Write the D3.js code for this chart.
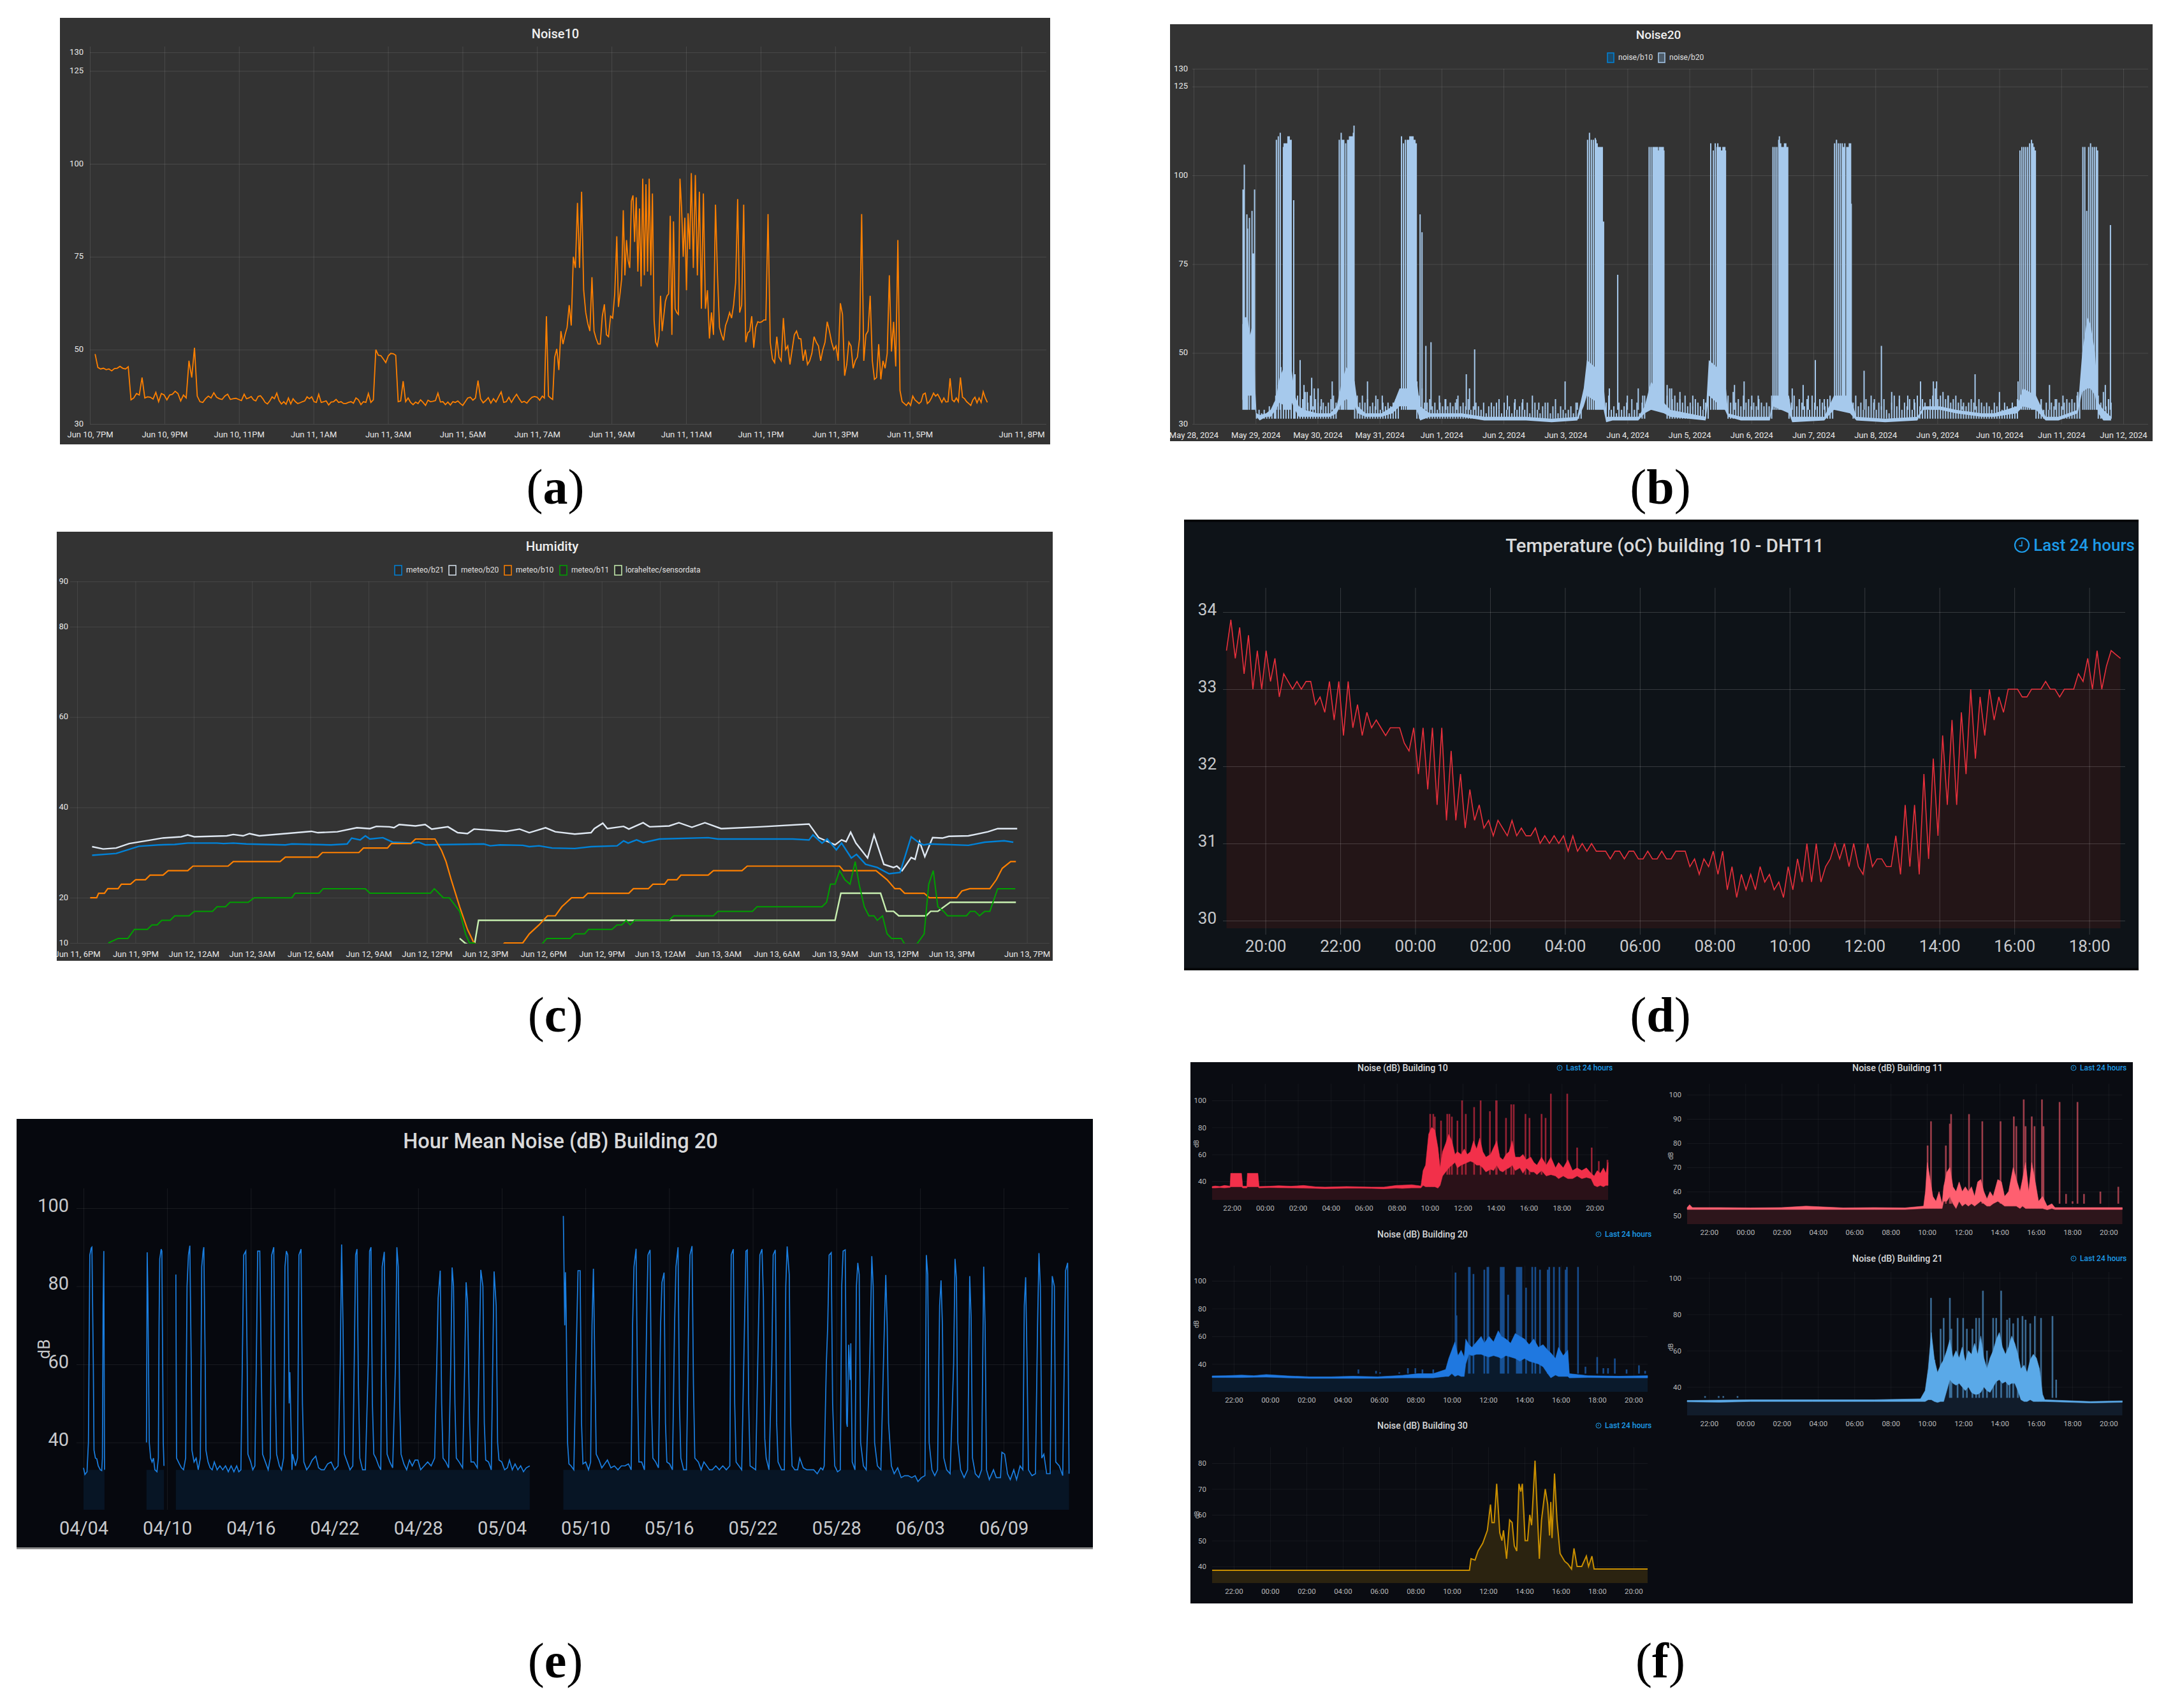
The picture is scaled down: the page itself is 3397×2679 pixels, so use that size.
<!DOCTYPE html>
<html>
<head>
<meta charset="utf-8">
<style>
html,body{margin:0;background:#fff}
svg{display:block}
text{font-family:Roboto,"Noto Sans",sans-serif}
</style>
<script src="https://cdnjs.cloudflare.com/ajax/libs/d3/7.8.5/d3.min.js"></script>
</head>
<body>
<script>
// (a) Noise10: twelve 2 hour stretches, samples evenly spaced inside each one
var noise10Rows = [
 [48.8,45.2,44.8,45,44.6,44.8,44.3,44.9,45,45.5,45,44.8,45.4,36.5,37,38.2,37.8,42.5,37,37.3,37.2,36.7,38.5,36,38.2,37.8,36.5],
 [37.8,38,38.8,38.2,36.2,37.8,37,47,42.5,50.5,37.5,36,35.8,36.8,37.5,37,38.4,37.2,36.8,36.6,37.5,38,36.6,36.8,36.9,36.6,36.3],
 [38,36.8,37,37.4,36.5,36.2,37.4,37.6,36.8,35.8,35.4,36.2,37.3,36.8,38.3,36.3,35.4,36,35.3,37,35.4,36.8,36,35.5,35.7,36,36.2,37.3,36.8,37.3,36,35.8],
 [38,35.8,36,36.2,35.1,35.9,36,36.6,35.8,36,35.5,35.5,35.8,36,35.6,37,36.5,35.2,36,35.8,38.2,35.8,36.5,50,48.5,48.4,47.5,46.5,48.3,49],
 [48.9,48.5,36,36.2,41.5,36,37,35.8,35.2,35.9,35.5,36.5,35.8,35,36.4,36,36.1,36.3,38.3,35.9,36,35.2,35.9,35.1,36,35.8,36.2,35.5,35,36],
 [37,37.2,36.4,37,41.7,36.8,35.7,36.3,37.1,35.6,36.8,35.9,37.3,38.6,35.8,36,37.2,35.8,37,38,36.8,35.8,36.1,35.6,36.5,37.2,37.4,37.2,36.4],
 [37.5,37,59,37.5,37,36.6,48,50.2,44.5,55,51.5,54,56,62,56.5,75,72,89.5,72,92.5,66,60,57,55,69.5,55,53,51.5,51.5,59,62.2,54,53.5,59,58.5,65],
 [80.5,61.5,65,69,87.5,70,79.5,74,72,90,91.5,79,91,71,88,67,96,70,94.5,71,96,70,92,58,52,51,53.5,64.5,55,59,63,64.5,65,86,54,84.5,61,60,59.5,96,88,75,85.5,66,86.7,77],
 [97.5,72,97,70,92.5,61,92,61,66,53,60,54,89,70,56,54,52.5,56.5,58,60,58.5,62,68,90.5,60,62,89,52,54.5,55,59,50.5,56,57.5,57.3,57.5,58],
 [58,86.5,52,47.5,46.5,53.5,48,47,58.5,50,51,46,50,54,55,53,52.9,47,50,46,47,49,53.5,52,51,47,50,52,57.5,55,52,50,51,47],
 [62.5,59.5,43,46,52,51,45,47,48,53,86.5,47,54,55,64.5,47,42,42.5,51.5,42,47,45,49,70,49.5,57.5,45.5,79.5,39,36,35.5,35,35.8,35,37.5],
 [36.5,36,35.5,36,38,38.3,35.5,36,37,38.3,37.5,38,37,35.8,37,35.9,36,42.3,36.5,36,37,36,42.5,37.2,36.8,36,35.5,35,36.5,37.2,35.7,37,35.8,38.7,37,35.8]
];
var noise10Ticks = [0,2,4,6,8,10,12,14,16,18,20,22,25];
var noise10Labels = ["Jun 10, 7PM","Jun 10, 9PM","Jun 10, 11PM","Jun 11, 1AM","Jun 11, 3AM","Jun 11, 5AM","Jun 11, 7AM","Jun 11, 9AM","Jun 11, 11AM","Jun 11, 1PM","Jun 11, 3PM","Jun 11, 5PM","Jun 11, 8PM"];
var noiseYTicks = [30,50,75,100,125,130];

// (b) Noise20: [quarter hour sample, low, high] of the solid band, then the spikes above it
var noise20Band = [[128,37,58],[132,34,60],[136,38,60],[140,38,55],[146,38,60],[148,34,40],[150,32,33],[155,31,32.5],[165,32,33],[172,32,34],[180,34,37],[186,36,43],[195,35,47],[205,36,45],[210,34,38],[216,32,35],[225,32,34],[245,32,33],[265,32,33],[275,33,35],[283,36,42],[290,37,46],[303,35,42],[308,33,35],[320,32,33],[345,32,33],[362,33,35],[373,35,40],[385,35,40],[400,34,42],[405,31,35],[420,32,33],[470,32,33],[505,31,32],[520,31,32],[570,31,32],[610,30.5,31.5],[650,31,32],[660,35,40],[665,38,48],[690,35,44],[695,30.5,32],[705,31,32],[745,31,32],[755,33,35],[765,34,42],[785,33,36],[795,32,34],[850,31,32],[855,38,48],[880,34,44],[885,32,33],[905,31,32],[950,31,32],[955,35,38],[980,33,38],[985,30.5,32],[1035,31,32],[1050,34,38],[1075,33,38],[1085,31,32],[1130,30.5,31.5],[1180,31,32],[1190,34,35],[1215,34,35],[1240,33,34],[1280,32,33],[1300,32,33],[1335,33,35],[1345,35,40],[1365,34,38],[1380,31,32],[1400,31,32],[1430,33,34],[1437,39,50],[1445,40,60],[1450,40,58],[1457,38,50],[1462,33,36],[1470,31,34],[1482,31,32]];
var noise20Spikes = [[129,96],[131,103],[133,60],[135,89],[136,85],[139,88],[143,90],[145,78],[147,96],
 [181,110],[184,111],[187,112],[192,108],[193,109],[194,108],[195,109],[196,109],[197,109],[199,111],[201,111],[202,109],[203,110],[204,110],[208,93],
 [279,110],[282,112],[284,110],[286,110],[289,109],[292,110],[293,110],[294,110],[295,111],[296,110],[297,111],[299,111],[300,110],[301,112],[302,114],
 [376,111],[379,109],[382,110],[385,110],[386,110],[388,110],[389,111],[390,111],[392,111],[393,111],[394,111],[395,110],[396,110],[397,110],[398,109],[399,109],[405,89],[408,84],[414,52],[422,53],
 [666,110],[669,112],[672,110],[675,110],[678,110.5],[679,110],[680,109],[681,109],[682,108],[684,108],[685,108],[686,108],[688,108],[689,108],[691,87],[713,72],
 [762,108],[765,108],[768,108],[769,108],[771,108],[773,108],[775,108],[776,107],[778,108],[780,108],[782,108],[784,108],[785,107],
 [858,109],[862,107],[865,109],[868,108],[869,109],[871,108],[873,108],[875,107],[877,108],[878,108],[880,108],[881,107],
 [955,108],[958,108],[961,108],[964,110],[965,111],[967,109],[969,108],[971,108],[973,109],[975,109],[977,108],[978,108],
 [1051,109],[1054,110],[1057,109],[1060,109],[1063,109],[1065,108],[1067,109],[1070,108],[1072,108],[1074,109],[1076,109],[1077,92],
 [1340,107],[1343,108],[1346,108],[1349,108],[1352,108],[1355,109],[1358,110],[1360,109],[1362,108],[1364,107],
 [1438,108],[1441,108],[1444,90],[1447,108],[1450,109],[1453,108],[1456,108],[1459,108],[1461,107],[1481,86],
 [218,48],[224,41],[229,39],[236,43],[240,40],[246,40],[251,37],[268,42],[323,42],[336,38],[346,38],[435,38],[445,37],[462,37],[477,44],[482,40],[490,51],[516,36],[528,37],[541,38],[553,37],[565,37],[580,38],[590,36],[600,36],[616,37],[631,42],[650,36],[700,40],[728,38],[745,40],[752,38],[790,41],[797,40],[810,39],[830,38],[847,37],[895,41],[910,42],[922,38],[932,38],[985,40],[1002,41],[1010,38],[1021,48],[1035,37],[1097,45],[1113,37],[1124,52],[1140,39],[1152,38],[1165,38],[1175,37],[1185,42],[1205,42],[1210,42],[1228,38],[1250,35],[1270,44],[1308,39],[1337,42],[1373,37],[1386,41],[1395,37],[1407,38],[1430,39],[1473,41],[1478,37]];
// small peaks along the floor: first number is the start sample, the rest are read every 4 samples
var noise20Ripple = [
 [150,33,34,33,34,33,35,34,36],
 [180,38,41,46,48,50,47,49,46],
 [210,44,38,40,37,39,36,38,35,37,36,35,36,35,36,37,38,36],
 [303,40,38,36,38,36,37,35,36,35,37,34,36,35,36,35,36,37,38],
 [400,42,38,40,36,36,37,35,36,34,36,35,37,35,36,35,36,38,35,36,35,37,34,35,36,35,34,36,33,35,34,35,36,34,33,36,34,35,33,36,34,35,36,34,36,33,34,36,34,33,35,34,36,33,35,34,33,35,34,33,34,35,33,36,33,35],
 [695,36,38,34,35,33,36,34,35,36,33,37,34,36,33,36,38],
 [790,38,40,37,38,36,37,36,38,35,36,35,37,36,35,34,36,38],
 [885,38,36,39,36,37,35,38,36,37,35,36,35,37,36,35,36,35,38],
 [980,37,36,38,35,37,36,35,37,34,38,36,35,37,36,35,37,38,36],
 [1080,36,38,35,36,34,37,35,38,36,34,36,35,37,34,33,36,38,35,37,34,36,35,37,34,36,38,35,37,36,34,37,38,40,37,38,39,37,38,36,37,38,36,37,36,35,36,37,36,35,37,36,35,36,35,34,36,35,36,34,36,35,34,36,35,37],
 [1365,36,35,37,34,36,34,36,35,37,36,35,36,37,36,37,36,38,37],
 [1462,38,36,39,35,37,36]
];
var noise20Labels = ["May 28, 2024","May 29, 2024","May 30, 2024","May 31, 2024","Jun 1, 2024","Jun 2, 2024","Jun 3, 2024","Jun 4, 2024","Jun 5, 2024","Jun 6, 2024","Jun 7, 2024","Jun 8, 2024","Jun 9, 2024","Jun 10, 2024","Jun 11, 2024","Jun 12, 2024"];

// (c) Humidity: [2 minute sample, percent]
var humidityB21 = [[63,29.4],[100,29.8],[135,31.4],[165,31.7],[190,31.8],[210,32.1],[255,32.1],[265,32],[280,32.1],[300,31.9],[360,31.7],[370,31.9],[430,31.7],[455,31.9],[462,33.2],[475,32.8],[483,33.7],[490,33],[510,33.3],[525,32.3],[553,32.1],[565,32.3],[575,31.7],[665,31.9],[675,31.5],[690,31.7],[725,31.6],[735,31.3],[750,31.5],[770,31],[805,30.9],[830,31.3],[870,31.5],[880,32.6],[887,32.1],[900,32.8],[910,32.2],[935,33],[1010,33.3],[1025,33],[1090,33],[1140,33],[1165,32.8],[1171,33.9],[1185,32.1],[1193,33],[1207,30.6],[1215,32.1],[1230,28.8],[1238,29.6],[1252,27.4],[1270,26.7],[1288,25.3],[1305,25.6],[1322,33.5],[1335,32.1],[1341,31.7],[1350,31.9],[1410,31.6],[1435,32.3],[1465,32.6],[1479,32.3]];
var humidityB20 = [[63,31.3],[80,30.8],[100,31],[120,32],[150,32.7],[170,33.2],[200,33.5],[210,33.9],[220,33.5],[270,33.7],[280,34],[295,33.7],[305,34.2],[320,33.7],[360,34.2],[400,34.7],[410,34.4],[440,34.6],[470,35.5],[490,35.3],[500,35.8],[520,35.7],[527,35.5],[535,36.2],[560,35.9],[575,36.2],[585,35.2],[610,35.7],[625,34.4],[640,34.2],[650,35.2],[700,34.7],[720,35.2],[735,34.4],[760,35.5],[775,34.6],[805,34.1],[830,34.4],[835,35.3],[848,36.5],[855,35.3],[880,35.8],[888,35.2],[910,36.6],[920,35.7],[950,35.9],[965,36.6],[985,35.6],[1005,36.6],[1030,35.3],[1090,35.7],[1165,36.3],[1180,33.3],[1205,31.7],[1215,32.8],[1222,32.4],[1229,34.5],[1237,32.1],[1255,28.8],[1265,33.9],[1280,27.4],[1295,26.7],[1300,27],[1308,26],[1322,28.9],[1328,28.5],[1335,32.4],[1343,29.1],[1355,33.3],[1370,33.2],[1380,33.6],[1410,33.7],[1440,34.6],[1455,35.3],[1485,35.3]];
var humidityB10 = [[60,20],[70,20],[73,21],[82,21],[87,22],[103,22],[108,23],[122,23],[130,24],[145,24],[152,25],[172,25],[180,26],[210,26],[218,27],[272,27],[280,28],[352,28],[360,29],[410,29],[417,30],[473,30],[480,31],[517,31],[523,32],[553,32],[560,33],[590,33],[600,30.5],[607,28],[615,24],[628,18],[640,13],[650,10],[660,9],[690,9],[697,10],[725,10],[735,12],[750,14],[763,16],[775,16],[785,18],[800,20],[818,20],[825,21],[888,21],[895,22],[918,22],[925,23],[943,23],[948,24],[962,24],[968,25],[1010,25],[1018,26],[1062,26],[1070,27],[1212,27],[1218,26],[1268,26],[1285,24],[1297,22],[1305,22],[1312,21],[1342,21],[1350,20],[1392,20],[1400,21.5],[1412,22],[1443,22],[1453,24],[1462,26.5],[1475,28],[1483,28]];
var humidityB11 = [[88,10],[103,11],[118,11],[128,13],[148,13],[155,14],[163,14],[170,15],[183,15],[190,16],[212,16],[220,17],[248,17],[255,18],[268,18],[275,19],[303,19],[312,20],[370,20],[375,21],[412,21],[418,22],[483,22],[490,21],[583,21],[589,22],[603,20],[612,20],[628,17],[637,12],[643,10],[650,10],[660,9],[750,9],[762,11],[798,11],[805,12],[820,12],[826,13],[862,13],[870,14],[877,14],[884,15],[890,14],[897,15],[950,15],[957,16],[1018,16],[1025,17],[1078,17],[1085,18],[1185,18],[1192,19],[1198,23],[1205,23],[1212,26],[1220,24],[1228,23],[1236,28],[1242,23],[1250,18],[1257,16],[1265,16],[1270,15],[1278,16],[1285,12],[1292,11],[1307,11],[1315,9],[1327,9],[1342,12],[1349,23],[1356,26],[1363,18],[1372,17],[1378,16],[1407,16],[1413,17],[1420,17],[1427,16],[1435,17],[1443,17],[1455,22],[1482,22]];
var humidityLora = [[628,11],[636,10],[650,9],[657,15],[1205,15],[1214,21],[1275,21],[1284,17],[1295,17],[1303,16],[1345,16],[1352,17],[1363,17],[1382,19],[1483,19]];
var humidityNames = ["meteo/b21","meteo/b20","meteo/b10","meteo/b11","loraheltec/sensordata"];
var humidityYTicks = [10,20,40,60,80,90];
var humidityLabels = ["Jun 11, 6PM","Jun 11, 9PM","Jun 12, 12AM","Jun 12, 3AM","Jun 12, 6AM","Jun 12, 9AM","Jun 12, 12PM","Jun 12, 3PM","Jun 12, 6PM","Jun 12, 9PM","Jun 13, 12AM","Jun 13, 3AM","Jun 13, 6AM","Jun 13, 9AM","Jun 13, 12PM","Jun 13, 3PM","Jun 13, 7PM"];

// (d) Temperature: twelve 2 hour stretches from about 18:58
var tempRows = [
 [33.5,33.9,33.4,33.8,33.2,33.7,33.0,33.5,33.0,33.5,33.1,33.4,32.9,33.2,33.1,33.0,33.1],
 [33.0,33.1,33.1,32.8,32.9,32.7,33.1,32.6,33.1,32.4,33.1,32.5,32.8,32.4,32.7,32.5],
 [32.6,32.5,32.4,32.5,32.5,32.5,32.3,32.2,32.5,31.9,32.5,31.7,32.5,31.5,32.5,31.3],
 [32.2,31.3,31.9,31.2,31.7,31.3,31.5,31.2,31.3,31.1,31.3,31.2,31.1,31.3,31.1,31.2],
 [31.1,31.1,31.2,31.0,31.1,31.0,31.1,31.0,31.1,30.9,31.1,30.9,31.0,30.9,31.0,30.9],
 [30.9,30.9,30.8,30.9,30.9,30.8,30.9,30.9,30.8,30.8,30.9,30.8,30.8,30.9,30.8,30.8],
 [30.9,30.9,30.9,30.7,30.8,30.6,30.8,30.7,30.9,30.6,30.9,30.4,30.7,30.3,30.6,30.4],
 [30.6,30.4,30.7,30.5,30.6,30.4,30.5,30.3,30.7,30.4,30.8,30.5,31.0,30.5,31.0,30.5],
 [30.7,30.8,31.0,30.8,31.0,30.7,31.0,30.7,30.6,31.0,30.7,30.8,30.8,30.7,30.7,31.1],
 [30.6,31.5,30.7,31.5,30.6,31.9,30.8,32.1,31.1,32.4,31.5,32.6,31.5,32.7,31.9,33.0],
 [32.1,32.9,32.4,33.0,32.6,32.9,32.7,33.0,33.0,33.0,32.9,32.9,33.0,33.0,33.0,33.1],
 [33.0,33.0,32.9,33.0,33.0,33.0,33.2,33.1,33.4,33.0,33.5,33.0,33.3,33.5,33.45,33.4]
];
var tempYTicks = [30,31,32,33,34];
var clockLabels = ["20:00","22:00","00:00","02:00","04:00","06:00","08:00","10:00","12:00","14:00","16:00","18:00"];

// (e) Hour mean noise: [72 minute sample, dB], one list per stretch without gaps
var hourMean1 = [[101,33.5],[103,31.8],[106,32.5],[108,40],[110,88],[112,89.8],[113,90],[115,60],[116,38],[118,36],[120,35.8],[122,34],[125,33],[127,32.8],[128,36],[129,75],[130,89],[131,33]];
var hourMean2 = [[191,40],[192,88.7],[193,78],[195,40],[197,36],[199,35],[201,36],[203,33],[206,32.5],[208,36],[209,70],[210,87],[212,89.5],[213,89],[215,40],[216,34]];
var hourMean3 = [[233,83],[234,36],[238,34.5],[241,33.5],[244,33],[247,36],[249,80],[251,88],[253,90.4],[255,60],[256,38],[259,35],[262,36],[265,33],[268,36],[270,85],[272,89],[273,90],[275,60],[276,38],[279,35],[282,33.5],[285,33],[288,35],[292,33],[296,34],[300,33],[304,34],[308,32.5],[312,34],[316,32.5],[320,34],[323,32.5],[326,33],[328,60],[330,88],[333,89],[335,60],[336,37],[340,35],[343,33],[346,34],[348,60],[350,89],[353,89],[355,60],[357,37],[361,35],[365,33],[368,36],[370,88],[373,90],[375,55],[377,37],[381,34],[384,33],[387,36],[389,85],[391,89],[393,88],[395,50],[396,58],[399,33],[400,37],[404,34],[407,36],[409,88],[412,89.5],[414,50],[416,35],[420,33],[424,34],[428,35.5],[433,36.5],[437,33.5],[441,33],[445,33],[450,34.5],[455,35],[460,33],[465,34],[468,60],[470,90.7],[472,70],[474,37],[478,35],[482,33],[486,34],[488,60],[490,88],[492,89.5],[494,55],[496,36],[500,33],[504,33],[508,60],[510,89],[512,90],[514,50],[516,37],[519,36],[523,34],[526,33],[528,85],[531,88.8],[533,60],[535,37],[539,35],[543,33.5],[547,60],[549,90],[551,85],[553,50],[555,37],[559,34.5],[563,33],[567,35.5],[571,34],[575,35.5],[579,35.5],[583,33],[588,34],[593,35],[598,34],[603,36],[606,60],[608,77],[611,84],[613,50],[615,36],[619,35],[623,33.5],[626,60],[628,84.8],[630,80],[632,50],[634,36],[638,35],[643,33.5],[646,60],[648,81],[650,76],[653,45],[655,35],[659,35],[664,33.5],[667,65],[669,84.2],[672,80],[674,45],[676,35.5],[680,35],[684,33],[686,60],[688,83.8],[691,75],[693,40],[695,35.5],[699,35],[703,33],[707,33.5],[710,35.5],[714,33],[718,34.5],[722,33],[726,34],[730,32.5],[734,33.5],[739,34]];
var hourMean4 = [[787,98],[789,70],[790,83.6],[791,74],[793,40],[795,34.5],[798,34],[802,33],[805,60],[808,84],[811,84],[813,45],[815,34.5],[819,35],[823,33],[826,35],[828,70],[830,84.5],[832,60],[834,37],[838,35.5],[842,33.5],[846,34.5],[850,35.5],[855,33.5],[860,34],[865,33],[870,34],[875,34],[880,34.5],[884,33],[886,70],[888,85],[891,89.6],[893,55],[895,35],[899,35],[903,33],[906,70],[908,88],[911,89.3],[913,50],[915,36],[919,35],[923,33.5],[926,70],[928,81],[931,83.5],[933,45],[935,35],[939,34.5],[943,33],[946,70],[948,85],[951,90],[953,50],[955,36],[959,33],[963,33],[966,70],[968,88],[971,90.3],[973,55],[975,36],[980,35],[984,33],[988,35],[992,34],[996,33],[1000,33],[1005,34],[1010,33],[1015,34],[1020,33],[1025,34],[1027,88],[1030,89.5],[1032,50],[1034,35],[1038,34],[1042,33],[1046,70],[1048,89],[1050,89.3],[1052,50],[1054,34],[1058,33.5],[1062,33],[1066,70],[1068,88],[1071,89.5],[1073,77.4],[1075,41],[1077,36],[1081,33],[1085,60],[1087,88],[1090,89.3],[1092,45],[1094,35],[1099,33],[1103,33],[1105,80],[1107,90.2],[1110,83],[1112,45],[1114,34],[1118,33],[1122,33],[1125,36],[1130,33.5],[1135,33],[1140,33],[1145,33],[1150,32],[1155,33.5],[1158,33],[1160,34],[1163,60],[1165,70],[1167,88],[1170,88.6],[1172,50],[1175,34],[1179,32.5],[1183,33],[1185,80],[1187,89],[1190,89.3],[1192,45],[1193,44],[1195,65],[1197,56],[1198,65.4],[1200,35],[1204,33],[1206,80],[1208,86],[1210,83],[1212,40],[1216,34],[1220,33],[1225,60],[1228,87.7],[1230,80],[1232,40],[1236,34],[1241,33],[1246,70],[1248,82.9],[1250,70],[1252,45],[1256,34],[1260,32],[1265,33.5],[1270,31],[1275,31.5],[1280,31.5],[1285,31],[1290,31.5],[1294,30],[1299,31],[1304,31.5],[1306,88],[1308,83],[1310,40],[1314,33],[1318,31.5],[1322,33],[1325,75],[1327,81.5],[1329,70],[1331,36],[1335,33],[1340,32],[1345,60],[1347,87],[1349,82],[1351,40],[1355,33],[1360,31],[1365,33],[1368,82.6],[1370,72],[1372,36],[1376,32],[1381,31],[1385,33],[1388,85],[1390,70],[1392,33],[1396,30.5],[1402,33],[1406,31],[1412,31],[1414,37.5],[1418,37],[1422,32],[1426,30.5],[1431,33],[1435,30.5],[1440,34],[1444,33],[1446,75],[1448,82.3],[1450,60],[1452,33],[1457,31.5],[1462,32],[1465,70],[1467,88.5],[1469,80],[1471,36],[1474,37],[1478,32],[1483,32],[1486,82.6],[1489,80],[1491,35],[1496,34],[1501,31.5],[1505,84],[1508,86],[1510,32]];
var hourMeanLabels = ["04/04","04/10","04/16","04/22","04/28","05/04","05/10","05/16","05/22","05/28","06/03","06/09"];
var hourMeanYTicks = [40,60,80,100];

// (f) the five 24 hour noise panels: [sample, low, high] bands and [sample, top] spikes
var b10Band = [[85,35.2,36.2],[95,35.2,36.6],[110,35.4,36.2],[125,35.2,37],[143,35.5,36.5],[145,36,46],[180,36,46],[184,35.2,36.4],[197,35.2,36.4],[199,36,46],[233,36,46],[237,35.2,36.2],[270,35.4,36.4],[300,35.3,36.8],[340,35.2,36.4],[380,35,37],[420,34.8,36],[450,34.6,35.8],[520,34.9,36.2],[560,34.9,36],[600,34.8,35.8],[640,34.5,35.8],[680,35,37],[700,34.8,37.2],[730,35.2,37.5],[760,35.2,36.6],[767,37,48],[775,36,52],[785,36,75],[795,36,80],[805,36,78],[815,35,65],[822,37,50],[830,44,62],[840,47,68],[850,50,75],[860,52,70],[870,54,60],[878,50,62],[890,52,60],[900,53,64],[910,54,60],[920,55,62],[930,54,70],[940,52,64],[950,52,72],[960,50,62],[970,47,58],[985,49,60],[995,48,65],[1005,52,70],[1015,48,58],[1025,47,56],[1035,49,60],[1045,50,62],[1055,52,70],[1065,48,58],[1080,50,58],[1090,46,60],[1100,50,56],[1115,47,58],[1125,47,54],[1135,45,52],[1150,48,58],[1165,44,52],[1180,45,58],[1195,44,50],[1205,42,54],[1220,44,50],[1235,42,56],[1250,42,48],[1265,44,50],[1280,42,48],[1295,43,50],[1310,42,46],[1320,37,44],[1330,36,48],[1340,37,46],[1350,36,50],[1358,37,46],[1365,37,54]];
var b10Spikes = [[790,90],[800,90],[805,88],[825,85],[845,90],[852,90],[860,88],[878,85],[893,100],[905,90],[932,95],[953,100],[983,92],[1003,100],[1005,100],[1035,87],[1052,97],[1060,97],[1098,90],[1111,87],[1150,90],[1163,87],[1180,105],[1233,105],[1265,65],[1312,65],[1335,55],[1363,56]];
var b20Band = [[85,30.2,31.4],[130,30.2,31.6],[180,30.2,32],[220,30.4,31.6],[260,30.5,32.4],[330,30,31.4],[400,29.6,30.8],[470,29.6,30.8],[540,29.6,31.2],[620,29.6,30.8],[700,30,31.8],[750,30,33],[800,30,33],[840,31,36],[850,31,44],[860,33,50],[870,31,56],[880,32,46],[890,31,50],[900,31,45],[905,40,58],[915,47,54],[925,46,52],[940,47,56],[955,47,60],[965,46,55],[980,45,60],[995,46,56],[1010,45,64],[1020,44,60],[1035,46,58],[1050,45,55],[1065,44,62],[1080,42,60],[1095,44,58],[1110,42,54],[1125,41,58],[1140,40,52],[1155,38,54],[1170,33,50],[1180,30,48],[1195,32,44],[1205,31,52],[1220,31,46],[1235,31,50],[1240,30,33],[1300,30.2,31.6],[1400,30,31.2],[1493,30,31.6]];
var b20Spikes = [[558,36],[615,35],[628,34],[690,34],[718,37],[742,37],[765,36],[800,36],[872,106],[875,75],[915,110],[918,110],[930,105],[965,108],[975,110],[978,110],[1018,110],[1021,110],[1025,110],[1028,110],[1042,90],[1070,110],[1073,110],[1077,110],[1081,110],[1085,110],[1100,95],[1120,110],[1130,110],[1145,108],[1170,108],[1175,110],[1190,110],[1208,110],[1228,108],[1232,110],[1268,110],[1292,38],[1330,45],[1350,37],[1365,37],[1387,44],[1425,36],[1465,39],[1485,35]];
var b30Line = [[85,38.5],[917,38.5],[922,43],[935,42.5],[945,46],[960,49],[975,54],[985,64],[990,57],[997,57],[1005,72],[1015,53],[1022,50],[1027,54],[1037,43],[1047,58],[1055,57],[1062,48],[1070,46],[1077,72],[1083,69],[1088,72],[1097,50],[1105,50],[1112,60],[1118,56],[1129,81],[1143,43],[1150,58],[1162,70],[1170,64],[1176,52],[1180,65],[1184,51],[1192,76],[1200,58],[1210,45],[1225,42],[1235,41],[1247,39],[1255,47],[1265,40],[1280,40],[1295,44],[1302,40],[1313,44],[1320,39],[1493,39]];
var b11Band = [[95,52.6,53.4],[103,52.6,54.6],[112,52.6,53.4],[200,52.6,53.4],[300,52.6,53.3],[400,52.6,53.4],[480,52.6,54],[600,52.6,53.3],[700,52.6,53.4],[800,52.6,53.3],[860,53,54],[866,53,60],[872,53,72],[880,53,66],[890,53,58],[900,53,56],[910,53,60],[920,53,55],[925,56,62],[935,56,68],[945,58,70],[955,55,62],[965,53,60],[975,56,64],[985,54,60],[995,55,62],[1005,54,60],[1015,55,62],[1025,54,58],[1035,55,64],[1045,56,65],[1055,55,60],[1065,54,57],[1075,54,60],[1085,55,58],[1100,56,65],[1112,55,64],[1122,54,58],[1135,54,60],[1150,54,70],[1160,54,65],[1172,53,60],[1180,54,65],[1190,53,72],[1200,53,60],[1210,53,72],[1220,53,65],[1232,53,56],[1245,53,58],[1260,52.5,54],[1275,53,55],[1285,52.6,53.4],[1400,52.6,53.4],[1503,52.6,53.4]];
var b11Spikes = [[873,79],[884,89],[932,79],[945,88],[949,92],[1007,92],[1050,89],[1109,89],[1152,91],[1160,87],[1184,98],[1190,87],[1210,91],[1219,87],[1243,98],[1248,87],[1300,97],[1321,59],[1342,56],[1358,97],[1379,59],[1432,60],[1490,62]];
var b21Band = [[95,31.8,32.6],[200,31.6,32.8],[300,32,33],[500,32,33],[700,32,33],[850,32,33.5],[865,32,38],[875,33,50],[885,33,70],[895,32,55],[905,31.5,48],[915,32,52],[925,32,55],[935,38,60],[945,44,66],[955,42,56],[965,41,60],[975,42,56],[985,40,62],[995,38,54],[1005,40,60],[1015,37,58],[1025,36,64],[1035,36,58],[1045,37,68],[1055,40,56],[1065,38,50],[1075,37,56],[1085,40,60],[1095,43,66],[1105,44,70],[1115,42,62],[1125,43,58],[1135,41,62],[1145,42,68],[1155,42,64],[1165,38,58],[1175,33,50],[1185,32,52],[1195,32,48],[1205,33,55],[1215,32,58],[1225,32,56],[1235,32,50],[1245,32,36],[1252,32,33],[1400,31.2,32],[1503,31.6,32.4]];
var b21Spikes = [[153,35],[197,35],[212,35],[235,34],[258,35],[884,89],[895,55],[915,72],[925,78],[945,89],[950,72],[970,78],[988,78],[1000,72],[1018,72],[1030,78],[1040,78],[1052,93],[1065,60],[1085,78],[1095,78],[1111,93],[1130,77],[1138,78],[1150,75],[1165,78],[1180,79],[1190,77],[1205,75],[1220,79],[1240,78],[1277,79],[1289,44]];
var dayClockLabels = ["22:00","00:00","02:00","04:00","06:00","08:00","10:00","12:00","14:00","16:00","18:00","20:00"];
var captionLetters = ["a","b","c","d","e","f"];

var svg = d3.select('body').append('svg').attr('width', 3397).attr('height', 2679);
var defs = svg.append('defs');
var clipCount = 0;

function clipped(x, y, w, h) {
	var id = 'clip' + (clipCount++);
	defs.append('clipPath').attr('id', id).append('rect').attr('x', x).attr('y', y).attr('width', w).attr('height', h);
	return svg.append('g').attr('clip-path', 'url(#' + id + ')');
}

function panel(x0, y0, x1, y1, fill) {
	var g = clipped(x0, y0, x1 - x0, y1 - y0);
	g.append('rect').attr('x', x0).attr('y', y0).attr('width', x1 - x0).attr('height', y1 - y0).attr('fill', fill);
	return g;
}

function label(g, x, y, str, size, fill, anchor, weight) {
	return g.append('text').attr('x', x).attr('y', y).attr('dy', '.35em')
		.attr('text-anchor', anchor || 'middle').attr('font-size', size).attr('fill', fill)
		.attr('font-weight', weight || 400).text(str);
}

// gridlines are the axis ticks stretched over the plot
function axes(g, x, y, xTicks, xLabels, yTicks, o) {
	var xa = g.append('g').attr('transform', 'translate(0,' + o.bottom + ')')
		.call(d3.axisBottom(x).tickValues(xTicks).tickFormat(function(d, i) { return xLabels[i]; })
			.tickSize(-(o.bottom - o.gridTop)).tickPadding(o.xLabelY - o.bottom - 0.36 * o.size));
	var ya = g.append('g').attr('transform', 'translate(' + o.left + ',0)')
		.call(d3.axisLeft(y).tickValues(yTicks).tickFormat(d3.format('d')).tickSize(-(o.right - o.left)).tickPadding(o.yPad));
	[xa, ya].forEach(function(a) {
		a.select('.domain').remove();
		a.selectAll('line').attr('stroke', o.grid).attr('stroke-width', 1);
		a.selectAll('text').attr('fill', o.text).attr('font-size', o.size);
	});
	ya.selectAll('text').attr('y', o.yShift || 0);
}

function rowsToPoints(rows, start, span) {
	var pts = [];
	rows.forEach(function(row, r) {
		row.forEach(function(v, j) { pts.push([start + span * (r + j / row.length), v]); });
	});
	return pts;
}

function spikePath(x, y, spikes, base) {
	var line = d3.line().x(function(d) { return x(d[0]); }).y(function(d) { return y(d[1]); });
	return spikes.map(function(s) { return line([[s[0], base], [s[0], s[1]]]); }).join('');
}

// "Last 24 hours" with its little clock
function lastHours(g, cx, cy, r, tx, size, anchor) {
	var c = '#1d9be8';
	g.append('circle').attr('cx', cx).attr('cy', cy).attr('r', r).attr('fill', 'none').attr('stroke', c).attr('stroke-width', Math.max(1, r / 5));
	g.append('path').attr('d', 'M' + cx + ' ' + (cy - r * 0.6) + 'V' + (cy + r * 0.1) + 'H' + (cx - r * 0.4)).attr('fill', 'none').attr('stroke', c).attr('stroke-width', Math.max(0.8, r / 7));
	label(g, tx, cy, 'Last 24 hours', size, c, anchor, 500);
}

// ---- (a)
(function() {
	var g = panel(94, 28, 1647, 697, '#333333');
	var x = d3.scaleLinear().domain([0, 25]).range([141, 1602]);
	var y = d3.scaleLinear().domain([30, 100]).range([665, 257]);
	axes(g, x, y, noise10Ticks, noise10Labels, noiseYTicks, {bottom: 665, gridTop: 73, left: 141, right: 1641, xLabelY: 681, yPad: 10, yShift: -1, size: 13, grid: 'rgba(255,255,255,0.11)', text: '#e8e8e8'});
	label(g, 871, 53, 'Noise10', 20, '#f0f0f0', 'middle', 500);
	g.append('path').datum(rowsToPoints(noise10Rows, 0.14, 2)).attr('fill', 'none').attr('stroke', '#ff8000').attr('stroke-width', 1.8)
		.attr('d', d3.line().x(function(d) { return x(d[0]); }).y(function(d) { return y(d[1]); }));
})();

// ---- (b)
(function() {
	var g = panel(1835, 38, 3376, 692, '#333333');
	var x = d3.scaleLinear().domain([52, 1501]).range([1872, 3330]);
	var y = d3.scaleLinear().domain([30, 100]).range([665, 275]);
	var ticks = noise20Labels.map(function(d, i) { return 52 + i * 96.6; });
	axes(g, x, y, ticks, noise20Labels, noiseYTicks, {bottom: 665, gridTop: 108, left: 1870, right: 3369, xLabelY: 682, yPad: 7, yShift: -1, size: 13, grid: 'rgba(255,255,255,0.11)', text: '#e8e8e8'});
	label(g, 2601, 54, 'Noise20', 19, '#f0f0f0', 'middle', 500);
	[['noise/b10', 2521, '#0082d8', '#1d4a68'], ['noise/b20', 2601, '#a6c9ec', '#4d5c6a']].forEach(function(l) {
		g.append('rect').attr('x', l[1]).attr('y', 83).attr('width', 10).attr('height', 15).attr('fill', l[3]).attr('stroke', l[2]).attr('stroke-width', 1.5);
		label(g, l[1] + 17, 90, l[0], 12, '#e0e0e0', 'start');
	});
	var ripple = [];
	noise20Ripple.forEach(function(row) {
		row.slice(1).forEach(function(v, i) { ripple.push([row[0] + i * 4, v]); });
	});
	g.append('path').attr('fill', 'none').attr('stroke', '#a6c9ec').attr('stroke-width', 2).attr('d', spikePath(x, y, noise20Spikes, 34));
	g.append('path').attr('fill', 'none').attr('stroke', '#a6c9ec').attr('stroke-width', 2).attr('d', spikePath(x, y, ripple, 31.5));
	g.append('path').datum(noise20Band).attr('fill', '#a6c9ec')
		.attr('d', d3.area().x(function(d) { return x(d[0]); }).y0(function(d) { return y(d[1]); }).y1(function(d) { return y(d[2]); }));
})();

// ---- (c)
(function() {
	var g = panel(89, 834, 1651, 1507, '#333333');
	var x = d3.scaleLinear().domain([40, 1500]).range([121, 1610.6]);
	var y = d3.scaleLinear().domain([10, 90]).range([1479, 912]);
	var ticks = humidityLabels.map(function(d, i) { return i < 16 ? 40 + i * 89.6 : 1500; });
	axes(g, x, y, ticks, humidityLabels, humidityYTicks, {bottom: 1479, gridTop: 912, left: 110, right: 1646, xLabelY: 1496, yPad: 3, yShift: -1, size: 13, grid: 'rgba(255,255,255,0.09)', text: '#e8e8e8'});
	label(g, 866, 857, 'Humidity', 20.5, '#f0f0f0', 'middle', 500);
	var legend = [[619, 637, '#0082d8'], [704, 723, '#d8e4f0'], [791, 809, '#ff8000'], [878, 896, '#00a000'], [964, 981, '#c8f0b0']];
	legend.forEach(function(l, i) {
		g.append('rect').attr('x', l[0]).attr('y', 887).attr('width', 11).attr('height', 15).attr('fill', 'rgba(0,0,0,0.15)').attr('stroke', l[2]).attr('stroke-width', 1.5);
		label(g, l[1], 894, humidityNames[i], 12, '#e0e0e0', 'start');
	});
	var plot = clipped(110, 912, 1536, 568);
	var line = d3.line().x(function(d) { return x(d[0]); }).y(function(d) { return y(d[1]); });
	[[humidityLora, '#c8f0b0', 2.4], [humidityB20, '#dfe8f2', 2.4], [humidityB21, '#0082d8', 2.4], [humidityB10, '#ff8000', 2.2], [humidityB11, '#00a000', 2]].forEach(function(s) {
		plot.append('path').datum(s[0]).attr('fill', 'none').attr('stroke', s[1]).attr('stroke-width', s[2]).attr('d', line);
	});
})();

// ---- (d)
(function() {
	var g = panel(1857, 815, 3354, 1522, '#0e1318');
	g.append('rect').attr('x', 1857).attr('y', 815).attr('width', 1497).attr('height', 4).attr('fill', '#05070a');
	g.append('rect').attr('x', 1857).attr('y', 1518).attr('width', 1497).attr('height', 4).attr('fill', '#05070a');
	var x = d3.scaleLinear().domain([0, 24]).range([1923.5, 3333]);
	var y = d3.scaleLinear().domain([30, 34]).range([1444, 960]);
	var hours = clockLabels.map(function(d, i) { return 1.04 + i * 2; });
	var pts = rowsToPoints(tempRows, 0, 2);
	g.append('path').datum(pts).attr('fill', '#231517')
		.attr('d', d3.area().x(function(d) { return x(d[0]); }).y0(1456).y1(function(d) { return y(d[1]); }));
	axes(g, x, y, hours, clockLabels, tempYTicks, {bottom: 1466, gridTop: 922, left: 1918, right: 3333, xLabelY: 1484, yPad: 10, yShift: -4, size: 26, grid: 'rgba(255,255,255,0.17)', text: '#c7c9cc'});
	g.append('path').datum(pts).attr('fill', 'none').attr('stroke', '#e8303c').attr('stroke-width', 1.6)
		.attr('d', d3.line().x(function(d) { return x(d[0]); }).y(function(d) { return y(d[1]); }));
	label(g, 2611, 856, 'Temperature (oC) building 10 - DHT11', 29.4, '#d8d9da', 'middle', 500);
	lastHours(g, 3171, 855, 11, 3348, 26, 'end');
})();

// ---- (e)
(function() {
	var g = panel(26, 1755, 1714, 2430, '#06080e');
	g.append('rect').attr('x', 26).attr('y', 2427).attr('width', 1688).attr('height', 3).attr('fill', '#8a8a8a');
	var x = d3.scaleLinear().domain([101, 1510]).range([131, 1676.6]);
	var y = d3.scaleLinear().domain([40, 100]).range([2262.5, 1895]);
	var ticks = hourMeanLabels.map(function(d, i) { return 101 + i * 119.6; });
	axes(g, x, y, ticks, hourMeanLabels, hourMeanYTicks, {bottom: 2368, gridTop: 1864, left: 120, right: 1676, xLabelY: 2397, yPad: 12, yShift: -4, size: 29, grid: 'rgba(255,255,255,0.08)', text: '#c7c9cc'});
	var area = d3.area().x(function(d) { return x(d[0]); }).y0(2368).y1(function(d) { return y(Math.min(d[1], 33)); });
	var line = d3.line().x(function(d) { return x(d[0]); }).y(function(d) { return y(d[1]); });
	[hourMean1, hourMean2, hourMean3, hourMean4].forEach(function(s) {
		g.append('path').datum(s).attr('fill', '#071525').attr('d', area);
		g.append('path').datum(s).attr('fill', 'none').attr('stroke', '#1a7ee0').attr('stroke-width', 1.7).attr('d', line);
	});
	label(g, 879, 1790, 'Hour Mean Noise (dB) Building 20', 32.5, '#d8d9da', 'middle', 500);
	label(g, 69, 2116, 'dB', 26, '#c7c9cc').attr('transform', 'rotate(-90 69 2116)');
})();

// ---- (f)
(function() {
	var g = panel(1867, 1666, 3345, 2515, '#0a0c12');
	var band = function(o) {
		var x = d3.scaleLinear().domain(o.dom).range(o.rng);
		var y = d3.scaleLinear().domain(o.ydom).range(o.yrng);
		var ticks = dayClockLabels.map(function(d, i) { return o.t0 + i * o.tStep; });
		axes(g, x, y, ticks, dayClockLabels, o.yTicks, {bottom: o.bottom, gridTop: o.top, left: o.rng[0], right: o.rng[1], xLabelY: o.bottom + 13, yPad: 9, size: 11.5, grid: 'rgba(255,255,255,0.05)', text: '#b8b9ba'});
		var area = d3.area().x(function(d) { return x(d[0]); });
		if (o.band) {
			g.append('path').datum(o.band).attr('fill', o.under).attr('d', area.y0(o.bottom).y1(function(d) { return y(d[1]); }));
			g.append('path').attr('fill', 'none').attr('stroke', o.color).attr('stroke-opacity', 0.6).attr('stroke-width', 2.6).attr('d', spikePath(x, y, o.spikes, o.spikeBase));
			g.append('path').datum(o.band).attr('fill', o.color).attr('stroke', o.color).attr('stroke-width', 0.6)
				.attr('d', d3.area().x(function(d) { return x(d[0]); }).y0(function(d) { return y(d[1]); }).y1(function(d) { return y(d[2]); }));
		} else {
			g.append('path').datum(o.line).attr('fill', o.under).attr('d', area.y0(o.bottom).y1(function(d) { return y(d[1]); }));
			g.append('path').datum(o.line).attr('fill', 'none').attr('stroke', o.color).attr('stroke-width', 2)
				.attr('d', d3.line().x(function(d) { return x(d[0]); }).y(function(d) { return y(d[1]); }));
		}
		label(g, o.titleX, o.titleY, o.title, 14.2, '#d8d9da', 'middle', 500);
		lastHours(g, o.iconX, o.titleY, 4, o.iconX + 10, 12, 'start');
		label(g, o.dbX, o.dbY, 'dB', 10, '#b8b9ba').attr('transform', 'rotate(-90 ' + o.dbX + ' ' + o.dbY + ')');
	};
	band({title: 'Noise (dB) Building 10', titleX: 2200, titleY: 1675, iconX: 2446, dbX: 1876, dbY: 1794, dom: [85, 1365], rng: [1901, 2522], t0: 149, tStep: 106.6, ydom: [40, 100], yrng: [1853, 1726], yTicks: [40, 60, 80, 100], top: 1700, bottom: 1882, band: b10Band, spikes: b10Spikes, spikeBase: 45, color: '#f2304a', under: '#2a1118'});
	band({title: 'Noise (dB) Building 20', titleX: 2231, titleY: 1936, iconX: 2507, dbX: 1876, dbY: 2077, dom: [85, 1493], rng: [1901, 2584], t0: 155, tStep: 117.5, ydom: [40, 100], yrng: [2139.4, 2009], yTicks: [40, 60, 80, 100], top: 1985, bottom: 2183, band: b20Band, spikes: b20Spikes, spikeBase: 33, color: '#1f78e0', under: '#0a1a2c'});
	band({title: 'Noise (dB) Building 30', titleX: 2231, titleY: 2236, iconX: 2507, dbX: 1877, dbY: 2376, dom: [85, 1493], rng: [1901, 2584], t0: 155, tStep: 117.5, ydom: [40, 80], yrng: [2457, 2295], yTicks: [40, 50, 60, 70, 80], top: 2270, bottom: 2483, line: b30Line, color: '#c98f00', under: '#2b2310'});
	band({title: 'Noise (dB) Building 11', titleX: 2976, titleY: 1675, iconX: 3252, dbX: 2620, dbY: 1813, dom: [95, 1503], rng: [2646, 3328.5], t0: 166, tStep: 117.5, ydom: [50, 100], yrng: [1907, 1717], yTicks: [50, 60, 70, 80, 90, 100], top: 1700, bottom: 1920, band: b11Band, spikes: b11Spikes, spikeBase: 55, color: '#ff5f70', under: '#2d151b'});
	band({title: 'Noise (dB) Building 21', titleX: 2976, titleY: 1974, iconX: 3252, dbX: 2620, dbY: 2113, dom: [95, 1503], rng: [2646, 3328.5], t0: 166, tStep: 117.5, ydom: [40, 100], yrng: [2175.5, 2004.5], yTicks: [40, 60, 80, 100], top: 1995, bottom: 2220, band: b21Band, spikes: b21Spikes, spikeBase: 34, color: '#5aa9e8', under: '#111c2b'});
})();

// captions under the panels, the letter is set heavier than its brackets
var capX = [871, 2604, 871, 2604, 871, 2604];
var capY = [767, 767, 1595, 1595, 2608, 2608];
var cap = svg.selectAll('.caption').data(captionLetters).enter().append('text').attr('class', 'caption')
	.attr('x', function(d, i) { return capX[i]; }).attr('y', function(d, i) { return capY[i]; })
	.attr('dy', '.3em').attr('text-anchor', 'middle').attr('font-size', 78)
	.attr('style', 'font-family:"Liberation Serif",serif').attr('fill', '#000');
cap.append('tspan').text('(');
cap.append('tspan').attr('font-weight', 700).text(function(d) { return d; });
cap.append('tspan').text(')');
</script>
</body>
</html>
